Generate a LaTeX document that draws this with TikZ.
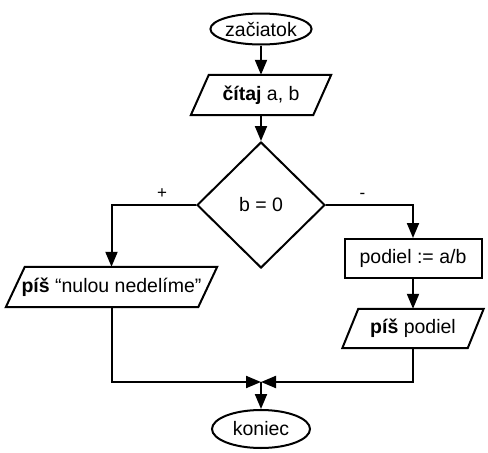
\documentclass[tikz,border=0pt]{standalone}
\usepackage{fontspec}
\setmainfont{Liberation Sans}
\usetikzlibrary{shapes.geometric,arrows.meta}
\begin{document}
\begin{tikzpicture}[x=1pt,y=-1pt,
  every node/.style={font=\fontsize{19.5}{22}\selectfont},
  line/.style={line width=2pt},
  flow/.style={line, -{Triangle[length=15pt,width=12pt]}},
  term/.style={ellipse, draw, line width=2pt, inner sep=0pt},
  io/.style={inner sep=0pt},
  proc/.style={rectangle, draw, line width=2pt, inner sep=0pt},
  cond/.style={diamond, draw, line width=2pt, inner sep=0pt, minimum width=128pt, minimum height=126pt},
  lbl/.style={font=\fontsize{17}{19}\selectfont}
]
\useasboundingbox (0,0) rectangle (488,453);

\node[term, minimum width=96pt, minimum height=31pt] (start) at (261,29) {začiatok};
\node[io, minimum width=122pt, minimum height=40pt] (read) at (261,95) {\textbf{čítaj} a, b};
\draw[line] ([xshift=9pt]read.north west) -- ([xshift=9pt]read.north east)
  -- ([xshift=-9pt]read.south east) -- ([xshift=-9pt]read.south west) -- cycle;
\node[cond] (dec) at (261,205) {b = 0};
\node[io, minimum width=192pt, minimum height=40pt] (outL) at (111.5,287) {\textbf{píš} “nulou nedelíme”};
\draw[line] ([xshift=9.5pt]outL.north west) -- ([xshift=9.5pt]outL.north east)
  -- ([xshift=-9.5pt]outL.south east) -- ([xshift=-9.5pt]outL.south west) -- cycle;
\node[proc, minimum width=137pt, minimum height=39pt] (calc) at (413,258.5) {podiel := a/b};
\node[io, minimum width=125pt, minimum height=39pt] (outR) at (413,328.5) {\textbf{píš} podiel};
\draw[line] ([xshift=8pt]outR.north west) -- ([xshift=8pt]outR.north east)
  -- ([xshift=-8pt]outR.south east) -- ([xshift=-8pt]outR.south west) -- cycle;
\coordinate (j) at (261,382);
\node[term, minimum width=98pt, minimum height=38pt] (stop) at (261,429) {koniec};

\draw[flow] (start) -- (read);
\draw[flow] (read) -- (dec);
\draw[flow] (dec.west) -| node[lbl, pos=0.2, above=2pt] {+} (outL.north);
\draw[flow] (dec.east) -| node[lbl, pos=0.21, above=2pt] {-} (calc.north);
\draw[flow] (calc) -- (outR);
\draw[flow] (outL.south) |- (j);
\draw[flow] (outR.south) |- (j);
\draw[flow] (j) -- (stop);
\end{tikzpicture}
\end{document}
